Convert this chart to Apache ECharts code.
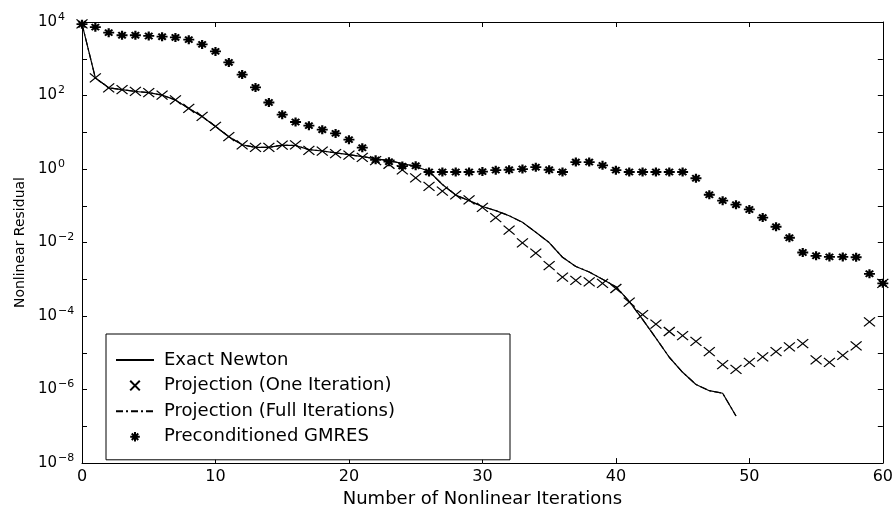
<!DOCTYPE html>
<html>
<head>
<meta charset="utf-8">
<title>Nonlinear Residual vs. Iterations</title>
<script src="https://cdn.jsdelivr.net/npm/echarts@6/dist/echarts.min.js"></script>
<style>
  html, body { margin: 0; padding: 0; background: #fff; }
  #chart { width: 896px; height: 513px; }
</style>
</head>
<body>
<div id="chart"></div>
<script>
// Residual histories, stored as log10(residual); entry k is nonlinear iteration k.
const exactNewtonLog10 = [
  3.95, 2.48, 2.21, 2.16, 2.11, 2.08, 2.01, 1.88, 1.65, 1.43,
  1.16, 0.88, 0.66, 0.59, 0.59, 0.65, 0.64, 0.53, 0.49, 0.44,
  0.39, 0.34, 0.28, 0.23, 0.15, 0.07, -0.06, -0.42, -0.71, -0.86,
  -1.02, -1.13, -1.27, -1.45, -1.72, -2.00, -2.40, -2.65, -2.80, -3.00,
  -3.20, -3.60, -4.09, -4.60, -5.12, -5.53, -5.86, -6.03, -6.10, -6.72
];
const projectionOneLog10 = [
  3.95, 2.48, 2.21, 2.16, 2.11, 2.08, 2.01, 1.88, 1.65, 1.43,
  1.16, 0.88, 0.66, 0.59, 0.59, 0.65, 0.66, 0.51, 0.49, 0.42,
  0.38, 0.32, 0.23, 0.13, -0.02, -0.24, -0.47, -0.60, -0.70, -0.84,
  -1.04, -1.32, -1.66, -2.01, -2.29, -2.63, -2.94, -3.03, -3.07, -3.11,
  -3.25, -3.62, -3.96, -4.22, -4.42, -4.53, -4.69, -4.97, -5.32, -5.45,
  -5.26, -5.11, -4.97, -4.84, -4.75, -5.19, -5.26, -5.07, -4.81, -4.16,
  -3.11
];
const projectionFullLog10 = [
  3.95, 2.48, 2.21, 2.16, 2.11, 2.08, 2.01, 1.88, 1.65, 1.43,
  1.16, 0.88, 0.66, 0.59, 0.59, 0.65, 0.64, 0.53, 0.49, 0.44,
  0.39, 0.34, 0.28, 0.23, 0.15, 0.07, -0.06, -0.42, -0.71, -0.86,
  -1.02, -1.13, -1.27, -1.45, -1.72, -2.00, -2.40, -2.65, -2.80, -3.00,
  -3.20, -3.60, -4.09, -4.60, -5.12, -5.53, -5.86, -6.03, -6.10, -6.72
];
const gmresLog10 = [
  3.94, 3.86, 3.71, 3.64, 3.64, 3.62, 3.60, 3.58, 3.52, 3.39,
  3.20, 2.90, 2.57, 2.22, 1.81, 1.48, 1.28, 1.18, 1.07, 0.97,
  0.80, 0.58, 0.25, 0.20, 0.08, 0.09, -0.08, -0.08, -0.08, -0.08,
  -0.07, -0.03, -0.02, 0.00, 0.05, -0.02, -0.08, 0.19, 0.19, 0.10,
  -0.03, -0.08, -0.08, -0.08, -0.08, -0.08, -0.25, -0.70, -0.86, -0.97,
  -1.10, -1.32, -1.57, -1.87, -2.27, -2.36, -2.39, -2.39, -2.40, -2.85,
  -3.11
];

const seriesNames = [
  'Exact Newton',
  'Projection (One Iteration)',
  'Projection (Full Iterations)',
  'Preconditioned GMRES'
];
const xTicks = [0, 10, 20, 30, 40, 50, 60];
const yExponents = [-8, -6, -4, -2, 0, 2, 4];

const FONT = 'DejaVu Sans';
const INK = '#000';
const CROSS = 'path://M0,0L10,10M10,0L0,10';
const STAR = 'path://M5,0L5,10M0,5L10,5M1.6,1.6L8.4,8.4M8.4,1.6L1.6,8.4';

const toPoints = arr => arr.map((v, k) => [k, v]);

// Decade labels 10^n on even exponents only; odd decades keep a bare tick.
function expLabel(v) {
  if (yExponents.indexOf(v) < 0) return '';
  const e = v < 0 ? '\u2212' + (-v) : String(v);
  return '{b|10}{e|' + e + '}';
}

const xBase = {
  type: 'value', min: xTicks[0], max: xTicks[xTicks.length - 1], interval: 10,
  axisLine: { show: true, onZero: false, lineStyle: { color: INK, width: 1 } },
  axisTick: { show: true, inside: true, length: 5, lineStyle: { color: INK, width: 1 } },
  splitLine: { show: false }
};
const yBase = {
  type: 'value', min: -8, max: 4, interval: 1,
  axisLine: { show: true, onZero: false, lineStyle: { color: INK, width: 1 } },
  axisTick: { show: true, inside: true, length: 5, lineStyle: { color: INK, width: 1 } },
  splitLine: { show: false }
};

const chart = echarts.init(document.getElementById('chart'), null, { renderer: 'canvas' });
chart.setOption({
  animation: false,
  backgroundColor: '#fff',
  grid: { left: 82, right: 12, top: 22, bottom: 39, containLabel: false },
  xAxis: [
    Object.assign({}, xBase, {
      position: 'bottom',
      axisLabel: { show: true, color: INK, fontFamily: FONT, fontSize: 16, margin: 6 },
      name: 'Number of Nonlinear Iterations',
      nameLocation: 'middle', nameGap: 21,
      nameTextStyle: { color: INK, fontFamily: FONT, fontSize: 18 }
    }),
    Object.assign({}, xBase, { position: 'top', axisLabel: { show: false } })
  ],
  yAxis: [
    Object.assign({}, yBase, {
      position: 'left',
      axisLabel: {
        show: true, align: 'left', margin: 44, formatter: expLabel,
        rich: {
          b: { color: INK, fontFamily: FONT, fontSize: 15 },
          e: { color: INK, fontFamily: FONT, fontSize: 11, padding: [0, 0, 10, 1] }
        }
      },
      name: 'Nonlinear Residual',
      nameLocation: 'middle', nameGap: 52, nameRotate: 90,
      nameTextStyle: { color: INK, fontFamily: FONT, fontSize: 14 }
    }),
    Object.assign({}, yBase, { position: 'right', axisLabel: { show: false } })
  ],
  legend: {
    left: 106, top: 334, orient: 'vertical',
    padding: [17, 115, 14, 9],
    itemWidth: 38, itemHeight: 12, itemGap: 7.6,
    borderColor: INK, borderWidth: 1, backgroundColor: '#fff',
    selectedMode: false,
    textStyle: { color: INK, fontFamily: FONT, fontSize: 18, lineHeight: 18, padding: [0, 0, 0, 5] },
    data: [
      { name: seriesNames[0], itemStyle: { opacity: 0 } },
      { name: seriesNames[1] },
      { name: seriesNames[2], itemStyle: { opacity: 0 } },
      { name: seriesNames[3] }
    ]
  },
  series: [
    {
      name: seriesNames[0], type: 'line', data: toPoints(exactNewtonLog10),
      symbol: 'none', z: 3,
      lineStyle: { color: INK, width: 1.2 }, itemStyle: { color: INK }
    },
    {
      name: seriesNames[2], type: 'line', data: toPoints(projectionFullLog10),
      symbol: 'none', z: 2,
      lineStyle: { color: INK, width: 1.2, type: [7, 3, 2, 3] }, itemStyle: { color: INK }
    },
    {
      name: seriesNames[1], type: 'line', data: toPoints(projectionOneLog10),
      symbol: CROSS, symbolSize: [11, 9], symbolKeepAspect: false, showSymbol: true, z: 4,
      lineStyle: { width: 0, color: INK },
      itemStyle: { color: 'rgba(0,0,0,0)', borderColor: INK, borderWidth: 1.2 }
    },
    {
      name: seriesNames[3], type: 'line', data: toPoints(gmresLog10),
      symbol: STAR, symbolSize: [11, 9], symbolKeepAspect: false, showSymbol: true, z: 5,
      lineStyle: { width: 0, color: INK },
      itemStyle: { color: 'rgba(0,0,0,0)', borderColor: INK, borderWidth: 2 }
    }
  ]
});
</script>
</body>
</html>
